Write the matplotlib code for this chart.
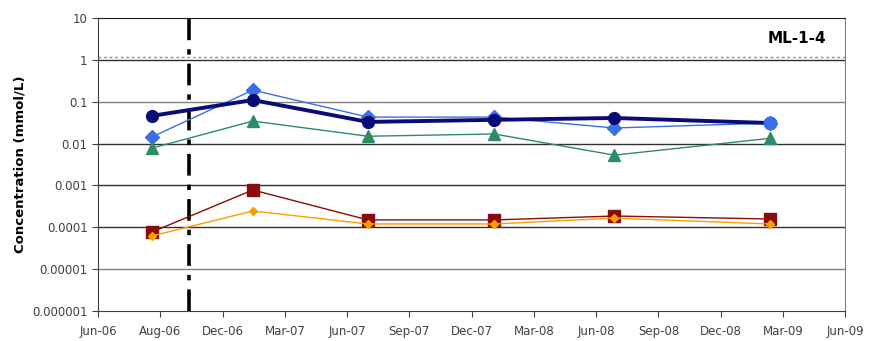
import matplotlib
matplotlib.use("Agg")
import matplotlib.pyplot as plt
import matplotlib.dates as mdates
import numpy as np
import pandas as pd

# sampling dates
dates = pd.to_datetime(["2006-08-19", "2007-01-14", "2007-07-02",
                        "2008-01-03", "2008-06-27", "2009-02-11"])

# concentrations (mmol/L)
navy = [0.046, 0.11, 0.033, 0.037, 0.041, 0.031]
blue = [0.0144, 0.19, 0.043, 0.043, 0.0236, 0.031]
green = [0.0078, 0.0345, 0.015, 0.017, 0.0053, 0.0134]
darkred = [7.7e-5, 7.8e-4, 1.5e-4, 1.5e-4, 1.86e-4, 1.58e-4]
orange = [6.2e-5, 2.45e-4, 1.2e-4, 1.2e-4, 1.66e-4, 1.2e-4]

ref_level = 1.17
event_date = pd.Timestamp("2006-10-12")

xtick_labels = ["Jun-06", "Aug-06", "Dec-06", "Mar-07", "Jun-07", "Sep-07",
                "Dec-07", "Mar-08", "Jun-08", "Sep-08", "Dec-08", "Mar-09", "Jun-09"]
ytick_vals = [1e-6, 1e-5, 1e-4, 1e-3, 1e-2, 1e-1, 1, 10]
ytick_labels = ["0.000001", "0.00001", "0.0001", "0.001", "0.01", "0.1", "1", "10"]

plt.rcParams["font.family"] = ["DejaVu Sans"]

fig = plt.figure(figsize=(8.72, 3.41), dpi=100)
ax = fig.add_axes([0.1124, 0.088, 0.857, 0.859])

ax.set_yscale("log")
ax.set_ylim(1e-6, 10)
x0 = mdates.date2num(pd.Timestamp("2006-06-01"))
x1 = mdates.date2num(pd.Timestamp("2009-06-01"))
ax.set_xlim(x0, x1)

# gridlines
for v, c in zip(ytick_vals[1:-1], ["#808080", "#303030", "#303030", "#303030", "#808080", "#303030"]):
    ax.axhline(v, color=c, lw=1.0, zorder=1)

ax.axhline(ref_level, color="#909090", lw=1.0, ls=(0, (2, 2)), zorder=1)
ax.axvline(event_date, color="black", lw=2.6, ls=(0, (6, 2.5, 1.5, 2.5)), zorder=2)

xd = mdates.date2num(dates)
ax.plot(xd, blue, color="#3a6fe8", lw=1.0, marker="D", ms=7, mec="#3a6fe8", zorder=4)
ax.plot(xd, navy, color="#0a0a78", lw=2.8, marker="o", ms=8.5, zorder=5)
ax.plot(xd[-1:], blue[-1:], ls="none", marker="o", ms=9, color="#3a6fe8", zorder=6)
ax.plot(xd, green, color="#2e8b66", lw=1.0, marker="^", ms=8, zorder=4)
ax.plot(xd, darkred, color="#8b0a0a", lw=1.0, marker="s", ms=8, zorder=4)
ax.plot(xd, orange, color="#f5a000", lw=1.0, marker="D", ms=4.5, zorder=5)

ax.set_yticks(ytick_vals)
ax.set_yticklabels(ytick_labels)
ax.minorticks_off()
ax.set_xticks(np.linspace(x0, x1, len(xtick_labels)))
ax.set_xticklabels(xtick_labels)
ax.tick_params(axis="both", labelsize=8.5, labelcolor="#404040", color="#404040",
               length=4, direction="out")
ax.tick_params(axis="x", pad=6)

for s in ["left", "bottom"]:
    ax.spines[s].set_color("#404040")
ax.spines["top"].set_color("#202020")
ax.spines["right"].set_color("#808080")

ax.set_ylabel("Concentration (mmol/L)", fontsize=9.5, fontweight="bold")
ax.text(0.975, 0.93, "ML-1-4", transform=ax.transAxes, ha="right", va="center",
        fontsize=11, fontweight="bold")

fig.savefig("out.png", dpi=100)
